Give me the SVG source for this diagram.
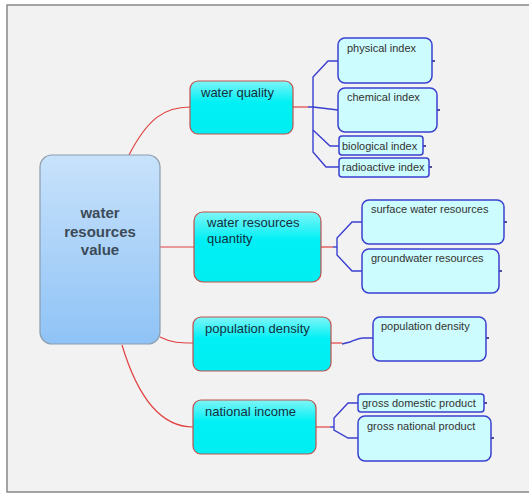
<svg xmlns="http://www.w3.org/2000/svg" width="529" height="493" viewBox="0 0 529 493">
<defs>
<linearGradient id="gc" x1="0" y1="0" x2="0" y2="1"><stop offset="0" stop-color="#c8e2fb"/><stop offset="1" stop-color="#8fc3f6"/></linearGradient>
<linearGradient id="g1" x1="0" y1="0" x2="0" y2="1"><stop offset="0" stop-color="#7ff5f7"/><stop offset="0.4" stop-color="#00f0f5"/><stop offset="1" stop-color="#00eef2"/></linearGradient>
<style>
.c{fill:url(#gc);stroke:#8c9cad;stroke-width:1.2}
.n1{fill:url(#g1);stroke:#c0504d;stroke-width:1.2}
.n2{fill:#ccfcfd;stroke:#3b3fd0;stroke-width:1.5}
.t0{font-family:"Liberation Sans",Arial,sans-serif;font-size:15px;font-weight:bold;fill:#3c4a58;text-anchor:middle}
.t1{font-family:"Liberation Sans",Arial,sans-serif;font-size:13px;fill:#123040}
.t2{font-family:"Liberation Sans",Arial,sans-serif;font-size:11px;fill:#333}
.r{fill:none;stroke:#e04040;stroke-width:1.2}
.b{fill:none;stroke:#3b3fd0;stroke-width:1.4}
.k{stroke:#1a1a80;stroke-width:1.5}
</style>
</defs>
<rect x="0" y="0" width="529" height="493" fill="#ffffff"/>
<rect x="7" y="5" width="530" height="487" fill="#f2f2f2" stroke="#888" stroke-width="1.5"/>
<g id="connectors">
<path class="r" d="M129,155 C148,118 165,107 190,107"/>
<path class="r" d="M160,247 L194,247"/>
<path class="r" d="M160,337 C172,343 180,343 193,343"/>
<path class="r" d="M122,345 C137,395 160,427 193,427"/>
<path class="r" d="M293,107 L308,107"/>
<path class="r" d="M321,247 L333,247"/>
<path class="r" d="M331,343 L342,343"/>
<path class="r" d="M316,427 L330,427"/>
<path class="b" d="M338,61 L328,61 L313,77 L313,152 L326,167 L339,167"/>
<path class="b" d="M308,107 L313,107 L338,110"/>
<path class="b" d="M313,130 L330,146 L339,146"/>
<path class="b" d="M333,247 L337,247"/>
<path class="b" d="M362,222 L352,222 L337,238 L337,255 L352,271 L362,271"/>
<path class="b" d="M342,344 L350,342 C355,340 358,338 363,338 L373,338"/>
<path class="b" d="M330,427 L334,427"/>
<path class="b" d="M358,403 L348,403 L334,418 L334,430 L348,438 L358,438"/>
<path class="k" d="M432,61 h3 M437,110 h3 M423,146 h3 M429,167 h3 M504,222 h3 M499,271 h3 M486,338 h3 M484,403 h3 M491,438 h3"/>
</g>
<g id="center"><rect class="c" x="40" y="155" width="120" height="189" rx="12"/>
<text class="t0" x="100" y="218">water</text><text class="t0" x="100" y="237">resources</text><text class="t0" x="100" y="255">value</text></g>
<g id="n-quality"><rect class="n1" x="190" y="81" width="103" height="53" rx="8"/><text class="t1" x="201" y="97">water quality</text></g>
<g id="n-quantity"><rect class="n1" x="194" y="212" width="127" height="70" rx="9"/><text class="t1" x="207" y="227">water resources</text><text class="t1" x="207" y="243">quantity</text></g>
<g id="n-popdens"><rect class="n1" x="193" y="317" width="138" height="54" rx="8"/><text class="t1" x="205" y="333">population density</text></g>
<g id="n-income"><rect class="n1" x="193" y="400" width="123" height="54" rx="8"/><text class="t1" x="205" y="416">national income</text></g>
<g id="l-physical"><rect class="n2" x="338" y="38" width="94" height="45" rx="7"/><text class="t2" x="347" y="52">physical index</text></g>
<g id="l-chemical"><rect class="n2" x="338" y="88" width="99" height="44" rx="7"/><text class="t2" x="347" y="101">chemical index</text></g>
<g id="l-biological"><rect class="n2" x="339" y="136" width="84" height="19" rx="3"/><text class="t2" x="342" y="150">biological index</text></g>
<g id="l-radioactive"><rect class="n2" x="339" y="158" width="90" height="19" rx="3"/><text class="t2" x="342" y="171">radioactive index</text></g>
<g id="l-surface"><rect class="n2" x="362" y="200" width="142" height="44" rx="7"/><text class="t2" x="371" y="213">surface water resources</text></g>
<g id="l-ground"><rect class="n2" x="362" y="249" width="137" height="44" rx="7"/><text class="t2" x="371" y="262">groundwater resources</text></g>
<g id="l-popdens"><rect class="n2" x="373" y="317" width="113" height="44" rx="7"/><text class="t2" x="381" y="330">population density</text></g>
<g id="l-gdp"><rect class="n2" x="358" y="394" width="126" height="18" rx="3"/><text class="t2" x="362" y="407">gross domestic product</text></g>
<g id="l-gnp"><rect class="n2" x="358" y="416" width="133" height="45" rx="7"/><text class="t2" x="367" y="430">gross national product</text></g>
</svg>
